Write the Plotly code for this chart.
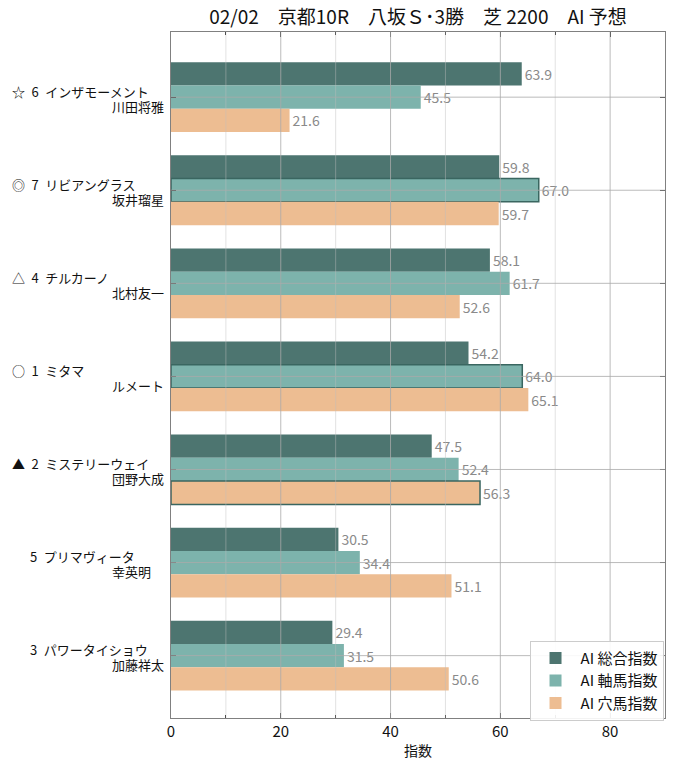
import plotly.graph_objects as go

title = "02/02　京都10R　八坂Ｓ･3勝　芝 2200　AI 予想"
marks = ["☆", "◎", "△", "○", "▲", "", ""]
numbers = ["6", "7", "4", "1", "2", "5", "3"]
horses = ["インザモーメント", "リビアングラス", "チルカーノ", "ミタマ", "ミステリーウェイ", "プリマヴィータ", "パワータイショウ"]
jockeys = ["川田将雅", "坂井瑠星", "北村友一", "ルメート", "団野大成", "幸英明", "加藤祥太"]

series_names = ["AI 総合指数", "AI 軸馬指数", "AI 穴馬指数"]
sogo = [63.9, 59.8, 58.1, 54.2, 47.5, 30.5, 29.4]
jiku = [45.5, 67.0, 61.7, 64.0, 52.4, 34.4, 31.5]
ana = [21.6, 59.7, 52.6, 65.1, 56.3, 51.1, 50.6]
# which bars carry a dark outline (per series)
outlined = [
    [0, 0, 0, 0, 0, 0, 0],
    [0, 1, 0, 1, 0, 0, 0],
    [0, 0, 0, 0, 1, 0, 0],
]
colors = ["#4d7570", "#7db3ac", "#edbd92"]
x_major = [0, 20, 40, 60, 80]
x_minor = [10, 30, 50, 70]

FONT = "Noto Sans CJK JP"
SP = "\u2002"
ypos = list(range(len(horses)))

W, H = 675, 770
L, R, T, B = 171, 10, 32, 52

fig = go.Figure()
for name, vals, col, ol in zip(series_names, [sogo, jiku, ana], colors, outlined):
    fig.add_trace(go.Bar(
        y=ypos, x=vals, orientation="h", name=name,
        marker=dict(color=col, line=dict(color="#3a6660", width=[1.5 if o else 0 for o in ol])),
        text=[f"{v:.1f}" for v in vals], textposition="outside",
        textfont=dict(color="#8a8a8a", size=14, family=FONT),
        constraintext="none", cliponaxis=False,
    ))

# gridlines drawn above the bars
for v in x_minor:
    fig.add_shape(type="line", xref="x", yref="paper", x0=v, x1=v, y0=0, y1=1,
                  line=dict(color="rgba(190,190,190,0.45)", width=1), layer="above")
for v in x_major[1:]:
    fig.add_shape(type="line", xref="x", yref="paper", x0=v, x1=v, y0=0, y1=1,
                  line=dict(color="rgba(170,170,170,0.8)", width=1), layer="above")
for y in ypos:
    fig.add_shape(type="line", xref="paper", yref="y", x0=0, x1=1, y0=y, y1=y,
                  line=dict(color="rgba(170,170,170,0.8)", width=1), layer="above")

# two-line y labels
for i in ypos:
    line1 = (marks[i] + SP if marks[i] else "") + numbers[i] + SP + horses[i]
    fig.add_annotation(x=0, xref="paper", y=i, yref="y", text=line1, showarrow=False,
                       xanchor="left", yanchor="middle", xshift=(-161 if marks[i] else -143), yshift=6,
                       font=dict(size=13, color="#111", family=FONT))
    fig.add_annotation(x=0, xref="paper", y=i, yref="y", text=jockeys[i], showarrow=False,
                       xanchor="left", yanchor="middle", xshift=-61, yshift=-9,
                       font=dict(size=13, color="#111", family=FONT))

fig.update_layout(
    width=W, height=H,
    margin=dict(l=L, r=R, t=T, b=B),
    paper_bgcolor="white", plot_bgcolor="white",
    barmode="group", bargap=0.25, bargroupgap=0,
    font=dict(family=FONT, color="#111"),
    title=dict(text=title, x=418 / W, xanchor="center", y=1 - 17 / H, yanchor="middle",
               font=dict(size=19, color="#111", family=FONT)),
    legend=dict(x=0.997, y=-0.004, xanchor="right", yanchor="bottom", bgcolor="rgba(255,255,255,0.9)",
                bordercolor="#cccccc", borderwidth=1, font=dict(size=15, family=FONT),
                traceorder="normal", itemwidth=40),
    xaxis=dict(range=[0, 90], tickvals=x_major, showgrid=False, zeroline=False,
               showline=True, linecolor="#808080", linewidth=1, mirror="allticks",
               ticks="inside", ticklen=5, tickcolor="#222",
               minor=dict(tickvals=x_minor, ticks="inside", ticklen=3, tickcolor="#222", showgrid=False),
               tickfont=dict(size=15, color="#111", family=FONT),
               title=dict(text="指数", font=dict(size=14, family=FONT), standoff=6)),
    yaxis=dict(range=[6.67, -0.70], tickvals=ypos, showticklabels=False, showgrid=False, zeroline=False,
               showline=True, linecolor="#808080", linewidth=1, mirror="allticks",
               ticks="inside", ticklen=5, tickcolor="#222"),
)

fig.write_html("out.html", config={"displayModeBar": False},
               post_script="document.body.style.margin='0';")
